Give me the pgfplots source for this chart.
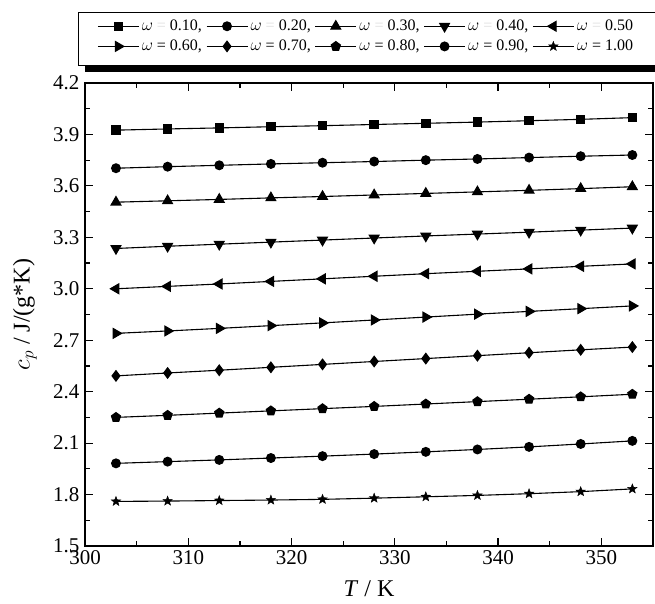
\documentclass[border=0pt]{standalone}
\usepackage{pgfplots}
\pgfplotsset{compat=1.18}
\usepackage{pgfplotstable}
\usetikzlibrary{plotmarks}
\usepackage{fontspec}
\setmainfont{Liberation Serif}

\pgfdeclareplotmark{fstar}{%
  \pgfpathmoveto{\pgfqpointpolar{90}{\pgfplotmarksize}}%
  \pgfpathlineto{\pgfqpointpolar{126}{0.42\pgfplotmarksize}}%
  \pgfpathlineto{\pgfqpointpolar{162}{\pgfplotmarksize}}%
  \pgfpathlineto{\pgfqpointpolar{198}{0.42\pgfplotmarksize}}%
  \pgfpathlineto{\pgfqpointpolar{234}{\pgfplotmarksize}}%
  \pgfpathlineto{\pgfqpointpolar{270}{0.42\pgfplotmarksize}}%
  \pgfpathlineto{\pgfqpointpolar{306}{\pgfplotmarksize}}%
  \pgfpathlineto{\pgfqpointpolar{342}{0.42\pgfplotmarksize}}%
  \pgfpathlineto{\pgfqpointpolar{18}{\pgfplotmarksize}}%
  \pgfpathlineto{\pgfqpointpolar{54}{0.42\pgfplotmarksize}}%
  \pgfpathclose
  \pgfusepathqfillstroke}

\pgfplotstableread{
T    a     b     c     d     e     f     g     h     i     j
303 3.925 3.703 3.505 3.235 3.000 2.740 2.492 2.250 1.982 1.760
308 3.932 3.712 3.513 3.248 3.014 2.754 2.509 2.262 1.992 1.762
313 3.938 3.720 3.521 3.260 3.028 2.769 2.525 2.275 2.002 1.765
318 3.945 3.728 3.530 3.272 3.043 2.785 2.542 2.288 2.013 1.768
323 3.951 3.735 3.538 3.284 3.058 2.801 2.559 2.301 2.024 1.772
328 3.958 3.742 3.547 3.296 3.073 2.818 2.576 2.314 2.036 1.779
333 3.965 3.750 3.556 3.308 3.088 2.835 2.593 2.328 2.049 1.787
338 3.972 3.757 3.565 3.319 3.102 2.852 2.610 2.342 2.063 1.795
343 3.980 3.765 3.574 3.330 3.116 2.868 2.627 2.356 2.078 1.805
348 3.988 3.773 3.584 3.342 3.131 2.884 2.644 2.370 2.095 1.817
353 3.998 3.780 3.595 3.354 3.145 2.900 2.660 2.385 2.113 1.833
}\datatable

\newcommand{\eqg}{\textcolor{black!12}{=}}
\newcommand{\lf}{\fontsize{16}{18}\selectfont}

\begin{document}
\begin{tikzpicture}[x=1pt,y=1pt]
\useasboundingbox (0,0) rectangle (655,604);
% legend frame and its shadow
\fill[black] (85,532) rectangle (670,537.5);
\draw[line width=0.8pt, fill=white] (78.3,538.3) rectangle (668,591.7);
\begin{axis}[
  at={(85pt,58pt)}, anchor=south west,
  scale only axis, width=568pt, height=463pt,
  xmin=300, xmax=355, ymin=1.5, ymax=4.2,
  xtick={300,310,...,350}, ytick={1.5,1.8,...,4.21},
  minor x tick num=1, minor y tick num=1,
  tick align=inside, xtick pos=both, ytick pos=both,
  major tick length=8pt, minor tick length=5pt,
  axis line style={line width=1.5pt},
  every tick/.style={line width=1.2pt, black},
  /pgf/number format/assume math mode=true,
  ticklabel style={font=\fontsize{21}{23}\selectfont},
  yticklabel style={/pgf/number format/fixed, /pgf/number format/fixed zerofill, /pgf/number format/precision=1, xshift=-2pt},
  xticklabel style={/pgf/number format/fixed, /pgf/number format/1000 sep={}, yshift=-1pt},
  xlabel={\textit{T} / K},
  ylabel={$c_p$ / J/(g*K)},
  label style={font=\fontsize{24}{26}\selectfont},
  xlabel style={at={(axis description cs:0.5,0)}, anchor=north, yshift=-31pt},
  ylabel style={at={(axis description cs:-0.106,0.5)}, anchor=center},
  cycle list={{black, solid}},
  every axis plot/.append style={black, solid, line width=1.1pt, mark options={solid, fill=black}},
  legend columns=5,
  legend style={at={(axis description cs:0,1)}, anchor=north west, xshift=12pt, yshift=64pt,
    draw=none, fill=none, inner sep=0pt,
    font=\lf,
    nodes={inner xsep=2.5pt, inner ysep=1pt},
    row sep=6pt,
    /tikz/every even column/.append style={column sep=1.5pt}},
  legend image code/.code={\draw[mark repeat=2, mark phase=2] plot coordinates {(0pt,0pt) (20.5pt,0pt) (41pt,0pt)};},
]
\addplot+[mark=square*, mark size=4.2pt] table[x=T,y=a]{\datatable};
\addlegendentry{\lf$\omega$ \eqg{} 0.10,}
\addplot+[mark=*, mark size=4.4pt] table[x=T,y=b]{\datatable};
\addlegendentry{\lf$\omega$ \eqg{} 0.20,}
\addplot+[mark=triangle*, mark size=5.6pt] table[x=T,y=c]{\datatable};
\addlegendentry{\lf$\omega$ \eqg{} 0.30,}
\addplot+[mark=triangle*, mark size=5.6pt, mark options={rotate=180}] table[x=T,y=d]{\datatable};
\addlegendentry{\lf$\omega$ \eqg{} 0.40,}
\addplot+[mark=triangle*, mark size=5.6pt, mark options={rotate=90}] table[x=T,y=e]{\datatable};
\addlegendentry{\lf$\omega$ \eqg{} 0.50}
\addplot+[mark=triangle*, mark size=5.6pt, mark options={rotate=-90}] table[x=T,y=f]{\datatable};
\addlegendentry{\lf$\omega$ = 0.60,}
\addplot+[mark=diamond*, mark size=5.2pt] table[x=T,y=g]{\datatable};
\addlegendentry{\lf$\omega$ = 0.70,}
\addplot+[mark=pentagon*, mark size=4.8pt] table[x=T,y=h]{\datatable};
\addlegendentry{\lf$\omega$ = 0.80,}
\addplot+[mark=*, mark size=4.4pt] table[x=T,y=i]{\datatable};
\addlegendentry{\lf$\omega$ = 0.90,}
\addplot+[mark=fstar, mark size=5pt, mark options={line width=0.4pt}] table[x=T,y=j]{\datatable};
\addlegendentry{\lf$\omega$ = 1.00}
\end{axis}
\end{tikzpicture}
\end{document}
